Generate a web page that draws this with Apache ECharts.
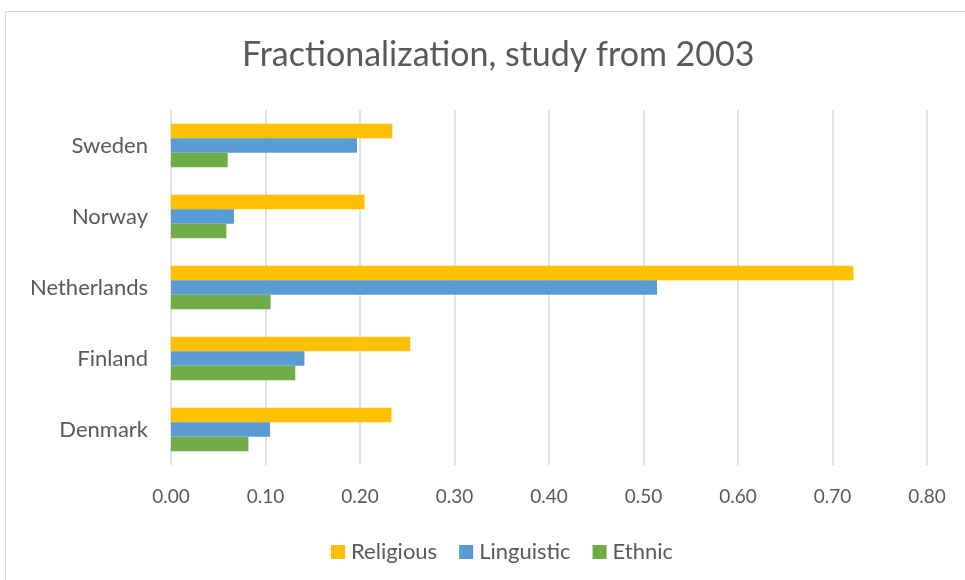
<!DOCTYPE html>
<html>
<head>
<meta charset="utf-8">
<script src="https://cdn.jsdelivr.net/npm/echarts@6/dist/echarts.min.js"></script>
<style>
  html, body { margin: 0; padding: 0; background: #ffffff; }
  #chart { width: 965px; height: 580px; }
</style>
</head>
<body>
<div id="chart"></div>
<script>
// Countries, listed bottom to top along the category axis
const countries = ['Denmark', 'Finland', 'Netherlands', 'Norway', 'Sweden'];

// Fractionalization indices (2003)
const religious  = [0.2333, 0.2531, 0.7222, 0.2048, 0.2342];
const linguistic = [0.1049, 0.1412, 0.5143, 0.0667, 0.1968];
const ethnic     = [0.0819, 0.1315, 0.1054, 0.0586, 0.0600];

// Value axis ticks
const xTicks = [0, 0.1, 0.2, 0.3, 0.4, 0.5, 0.6, 0.7, 0.8];

const font = 'Lato, "Open Sans", sans-serif';
const textColor = '#595959';

const chart = echarts.init(document.getElementById('chart'), null, { renderer: 'canvas' });

chart.setOption({
  backgroundColor: '#ffffff',
  animation: false,
  graphic: [{
    type: 'rect',
    shape: { x: 5.5, y: 11.5, width: 980, height: 600 },
    style: { fill: 'none', stroke: '#d9d9d9', lineWidth: 1 },
    silent: true
  }],
  title: {
    text: 'Fractionalization, study from 2003',
    left: 237,
    top: 33,
    textStyle: { fontFamily: font, fontSize: 34, fontWeight: 'normal', color: textColor }
  },
  legend: {
    data: ['Religious', 'Linguistic', 'Ethnic'],
    top: 536,
    left: 326,
    itemWidth: 14,
    itemHeight: 14,
    itemGap: 22,
    icon: 'rect',
    textStyle: { fontFamily: font, fontSize: 22, color: textColor, padding: [0, 0, 0, 1] }
  },
  grid: { left: 171, right: 38, top: 110, bottom: 115, containLabel: false },
  xAxis: {
    type: 'value',
    min: xTicks[0],
    max: xTicks[xTicks.length - 1],
    interval: 0.1,
    axisLine: { show: false },
    axisTick: { show: false },
    splitLine: { lineStyle: { color: '#d9d9d9', width: 1.5 } },
    axisLabel: {
      margin: 22,
      fontFamily: font, fontSize: 19, color: textColor,
      formatter: v => v.toFixed(2)
    }
  },
  yAxis: {
    type: 'category',
    data: countries,
    axisLine: { show: false },
    axisTick: { show: false },
    axisLabel: { margin: 23, fontFamily: font, fontSize: 22, color: textColor }
  },
  series: [
    {
      name: 'Religious', type: 'bar', data: religious,
      barWidth: 14.5, barGap: '0%',
      itemStyle: { color: '#ffc000' }
    },
    {
      name: 'Linguistic', type: 'bar', data: linguistic,
      barWidth: 14.5, barGap: '0%',
      itemStyle: { color: '#5b9bd5' }
    },
    {
      name: 'Ethnic', type: 'bar', data: ethnic,
      barWidth: 14.5, barGap: '0%',
      itemStyle: { color: '#70ad47' }
    }
  ]
});
</script>
</body>
</html>
